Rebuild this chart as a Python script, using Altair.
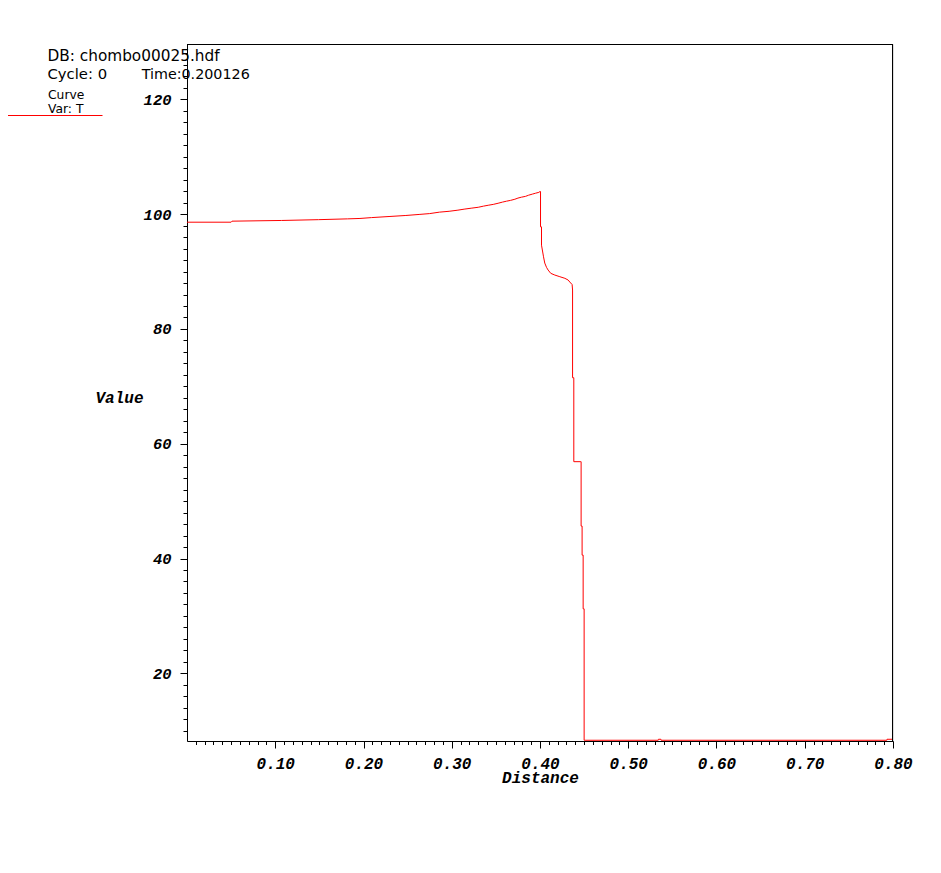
import altair as alt
import pandas as pd

# ---- data ----
distance = [0.000, 0.050, 0.051, 0.107, 0.149, 0.182, 0.196, 0.209, 0.230, 0.248,
            0.263, 0.275, 0.286, 0.297, 0.307, 0.314, 0.322, 0.330, 0.336, 0.342,
            0.347, 0.3525, 0.3575, 0.362, 0.3666, 0.3715, 0.375, 0.379, 0.3836, 0.387,
            0.3915, 0.395, 0.3987, 0.4000, 0.4006, 0.4006, 0.4017, 0.4017, 0.4040, 0.4054,
            0.4074, 0.4092, 0.4122, 0.4168, 0.4225, 0.4282, 0.4319, 0.4338, 0.4364, 0.4369,
            0.4369, 0.4383, 0.4383, 0.4455, 0.4466, 0.4466, 0.4477, 0.4477, 0.4489, 0.4489,
            0.4500, 0.4500, 0.4511, 0.5340, 0.5342, 0.5370, 0.5372, 0.7930, 0.7932, 0.8000]
value = [98.60, 98.60, 98.78, 98.90, 99.04, 99.18, 99.25, 99.40, 99.60, 99.77,
         99.95, 100.10, 100.35, 100.50, 100.70, 100.87, 101.04, 101.20, 101.40, 101.57,
         101.70, 101.90, 102.10, 102.26, 102.40, 102.60, 102.80, 102.96, 103.10, 103.30,
         103.50, 103.65, 103.80, 103.95, 103.95, 97.79, 97.79, 94.60, 92.57, 91.48,
         90.73, 90.26, 89.69, 89.39, 89.10, 88.82, 88.52, 88.17, 87.74, 86.78,
         71.50, 71.50, 56.87, 56.87, 56.87, 45.65, 45.65, 40.59, 40.59, 31.23,
         31.23, 8.33, 8.33, 8.33, 8.50, 8.50, 8.33, 8.33, 8.50, 8.50]
order = list(range(len(distance)))

x_tick_values = [round(i * 0.01, 2) for i in range(1, 81)]
y_tick_values = list(range(10, 130, 2))

header_lines = ["DB: chombo00025.hdf", "Cycle: 0", "Time:0.200126"]
legend_lines = ["Curve", "Var: T"]

df = pd.DataFrame({"Distance": distance, "Value": value, "i": order})

MONO = "Liberation Mono"
SANS = "DejaVu Sans"
W, H = 706, 697

x_axis = alt.Axis(
    values=x_tick_values,
    labelExpr="abs(datum.value*10 - round(datum.value*10)) < 1e-6 ? format(datum.value, '.2f') : ''",
    tickSize={"condition": {"test": "abs(datum.value*10 - round(datum.value*10)) < 1e-6", "value": 7}, "value": 3.5},
    tickColor="black", domainColor="black", labelColor="black",
    labelFont=MONO, labelFontSize=16, labelFontStyle="italic", labelFontWeight="bold",
    labelPadding=7, labelOverlap=False, labelFlush=False,
    grid=False,
    title="Distance", titleFont=MONO, titleFontSize=16, titleFontStyle="italic", titleFontWeight="bold",
    titleColor="black", titleX=W / 2, titleY=41, titleAlign="center", titleBaseline="alphabetic",
)

y_axis = alt.Axis(
    values=y_tick_values,
    labelExpr="datum.value % 20 == 0 ? format(datum.value, 'd') : ''",
    tickSize={"condition": {"test": "datum.value % 20 == 0", "value": 7}, "value": 4},
    tickColor="black", domainColor="black", labelColor="black",
    labelFont=MONO, labelFontSize=15.5, labelFontStyle="italic", labelFontWeight="bold",
    labelPadding=9, labelOverlap=False, labelFlush=False,
    grid=False,
    title="Value", titleFont=MONO, titleFontSize=16, titleFontStyle="italic", titleFontWeight="bold",
    titleColor="black", titleAngle=0, titleX=-68, titleY=358.5, titleAlign="center",
    titleBaseline="alphabetic",
)

line = alt.Chart(df).mark_line(color="#ff0000", strokeWidth=1, clip=True).encode(
    x=alt.X("Distance:Q", scale=alt.Scale(domain=[0, 0.8], nice=False, zero=False), axis=x_axis),
    y=alt.Y("Value:Q", scale=alt.Scale(domain=[8.2, 129.65], nice=False, zero=False), axis=y_axis),
    order="i:Q",
)

def label(txt, x, y, size):
    return alt.Chart(pd.DataFrame({"t": [txt]})).mark_text(
        align="left", baseline="alphabetic", font=SANS, fontSize=size, color="black"
    ).encode(x=alt.value(x), y=alt.value(y), text="t:N")

t1 = label(header_lines[0], -139.5, 16.7, 15.3)
t2 = label(header_lines[1], -139.5, 35.0, 14.8)
t3 = label(header_lines[2], -45.3, 35.0, 14.3)
t4 = label(legend_lines[0], -139.0, 55.3, 12.3)
t5 = label(legend_lines[1], -139.0, 68.7, 12.3)

dummy = pd.DataFrame({"a": [0]})
leg = alt.Chart(dummy).mark_rule(color="#ff0000", strokeWidth=1).encode(
    x=alt.value(-183), x2=alt.value(-84.5), y=alt.value(71.5)
)
frame_top = alt.Chart(dummy).mark_rule(color="black", strokeWidth=1).encode(
    x=alt.value(0), x2=alt.value(W), y=alt.value(0.5)
)
frame_right = alt.Chart(dummy).mark_rule(color="black", strokeWidth=1).encode(
    x=alt.value(W - 0.5), y=alt.value(0), y2=alt.value(H)
)

chart = alt.layer(line, frame_top, frame_right, t1, t2, t3, t4, t5, leg).properties(
    width=W, height=H,
    autosize=alt.AutoSizeParams(type="none"),
    padding={"left": 179, "top": 36, "right": 40, "bottom": 110},
).configure_view(stroke=None).configure(background="white")

chart.save("out.html", embed_options={"renderer": "svg", "actions": False})
